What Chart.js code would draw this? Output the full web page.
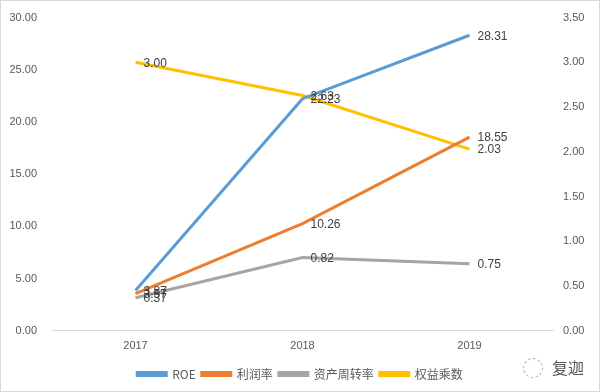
<!DOCTYPE html>
<html>
<head>
<meta charset="utf-8">
<script src="https://cdn.jsdelivr.net/npm/chart.js@4"></script>
<style>
  html, body { margin: 0; padding: 0; background: #fff; }
  #wrap { position: relative; width: 600px; height: 392px; box-sizing: border-box; border: 1px solid #d9d9d9; overflow: hidden; }
  #lineChart { display: block; margin-top: -5px; }
  #mark { position: absolute; left: 551px; top: 354px; font: 16px "Noto Sans CJK SC", sans-serif; color: #595959; }
  #logo { position: absolute; left: 522px; top: 357px; width: 18px; height: 18px; border: 1px dashed #aaa; border-radius: 50%; }
</style>
</head>
<body>
<div id="wrap">
  <canvas id="lineChart" width="598" height="395"></canvas>
  <div id="logo"></div>
  <span id="mark">复迦</span>
</div>
<script>
// 数据
const years = ['2017', '2018', '2019'];
const roe = [3.87, 22.23, 28.31];
const profitRate = [3.57, 10.26, 18.55];
const turnover = [0.37, 0.82, 0.75];
const multiplier = [3.00, 2.63, 2.03];

// 数据标签
const valueLabels = {
  id: 'valueLabels',
  afterDatasetsDraw(chart) {
    const ctx = chart.ctx;
    ctx.save();
    ctx.font = '12px "Liberation Sans", "DejaVu Sans", sans-serif';
    ctx.fillStyle = '#404040';
    ctx.textBaseline = 'middle';
    ctx.textAlign = 'left';
    chart.data.datasets.forEach((ds, i) => {
      chart.getDatasetMeta(i).data.forEach((pt, j) => {
        ctx.fillText(ds.data[j].toFixed(2), pt.x + 8, pt.y + 1);
      });
    });
    ctx.restore();
  }
};

const tickFont = { family: '"Liberation Sans", "DejaVu Sans", sans-serif', size: 11 };

const lineCtx = document.getElementById('lineChart').getContext('2d');
const lineChart = new Chart(lineCtx, {
  type: 'line',
  data: {
    labels: years,
    datasets: [
      { label: 'ROE', data: roe, borderColor: '#5b9bd5', backgroundColor: '#5b9bd5', yAxisID: 'y' },
      { label: '利润率', data: profitRate, borderColor: '#ed7d31', backgroundColor: '#ed7d31', yAxisID: 'y' },
      { label: '资产周转率', data: turnover, borderColor: '#a5a5a5', backgroundColor: '#a5a5a5', yAxisID: 'y2' },
      { label: '权益乘数', data: multiplier, borderColor: '#ffc000', backgroundColor: '#ffc000', yAxisID: 'y2' },
    ],
  },
  options: {
    responsive: false,
    animation: false,
    layout: { padding: { top: 4, bottom: 1 } },
    elements: {
      line: { borderWidth: 3, tension: 0 },
      point: { radius: 0 },
    },
    scales: {
      x: {
        offset: true,
        grid: { display: true, drawOnChartArea: false, drawTicks: false },
        border: { color: '#d9d9d9' },
        ticks: { color: '#595959', font: tickFont, padding: 9 },
      },
      y: {
        position: 'left',
        min: 0,
        max: 30,
        grid: { display: false, drawTicks: false },
        border: { display: false },
        ticks: { stepSize: 5, color: '#595959', font: tickFont, padding: 15, callback: v => v.toFixed(2) },
        afterFit: s => { s.width = 51; },
      },
      y2: {
        position: 'right',
        min: 0,
        max: 3.5,
        grid: { display: false, drawTicks: false },
        border: { display: false },
        ticks: { stepSize: 0.5, color: '#595959', font: tickFont, padding: 10, callback: v => v.toFixed(2) },
        afterFit: s => { s.width = 46; },
      },
    },
    plugins: {
      legend: {
        position: 'bottom',
        labels: {
          boxWidth: 29,
          boxHeight: 3,
          padding: 6,
          color: '#595959',
          font: { family: '"Noto Sans CJK SC", "Liberation Sans", sans-serif', size: 12 },
        },
      },
      tooltip: { enabled: false },
    },
  },
  plugins: [valueLabels],
});
</script>
</body>
</html>
